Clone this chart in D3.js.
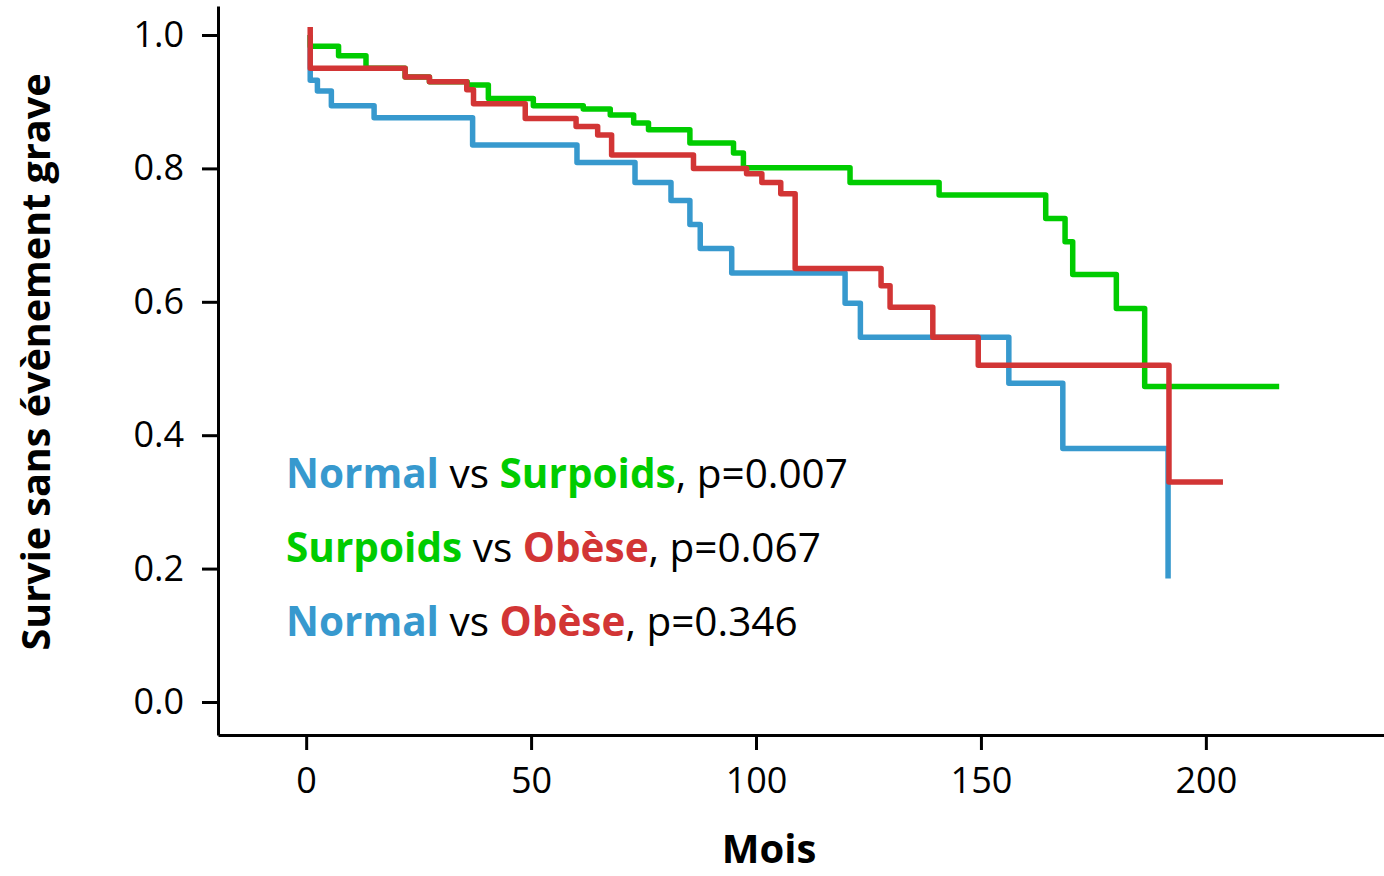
<!DOCTYPE html>
<html>
<head>
<meta charset="utf-8">
<script src="https://cdn.jsdelivr.net/npm/d3@7"></script>
<style>
  body { margin: 0; background: #fff; }
  text { font-family: "Open Sans", Lato, sans-serif; }
</style>
</head>
<body>
<svg></svg>
<script>
// Kaplan-Meier curves: [month, survival]
const normalCurve = [
  [0.9, 1.0], [0.9, 0.932], [2.5, 0.916], [5.6, 0.894], [15.1, 0.876], [37.0, 0.835],
  [60.2, 0.809], [73.1, 0.779], [81.1, 0.752], [85.3, 0.716], [87.6, 0.680], [94.6, 0.643],
  [119.8, 0.598], [123.2, 0.547], [156.2, 0.478], [168.2, 0.380], [191.6, 0.185]
]
const surpoidsCurve = [
  [0.9, 1.0], [0.9, 0.983], [7.2, 0.969], [13.3, 0.950], [22.0, 0.937], [27.4, 0.930],
  [35.8, 0.925], [40.5, 0.905], [50.5, 0.894], [61.6, 0.889], [67.6, 0.880], [72.8, 0.868],
  [76.1, 0.858], [85.3, 0.838], [95.0, 0.823], [97.2, 0.801], [120.9, 0.779], [140.7, 0.760],
  [164.4, 0.725], [168.7, 0.690], [170.4, 0.641], [180.1, 0.590], [186.4, 0.473], [216.3, 0.473]
]
const obeseCurve = [
  [0.9, 1.012], [0.9, 0.950], [22.0, 0.937], [27.4, 0.930], [35.7, 0.918], [37.2, 0.897],
  [48.7, 0.875], [60.0, 0.863], [64.8, 0.850], [67.9, 0.820], [86.1, 0.800], [97.9, 0.792],
  [101.3, 0.779], [105.5, 0.762], [108.7, 0.650], [127.8, 0.624], [129.8, 0.592], [139.3, 0.547],
  [149.4, 0.505], [191.8, 0.330], [203.8, 0.330]
]

const xTicks = [0, 50, 100, 150, 200]
const yTicks = [0, 0.2, 0.4, 0.6, 0.8, 1.0]

const groupColors = {Normal: '#3799ce', Surpoids: '#00cc00', 'Obèse': '#d23535'}

// each comparison: [group A, group B, p-value]
const comparisons = [
  ['Normal', 'Surpoids', '0.007'],
  ['Surpoids', 'Obèse', '0.067'],
  ['Normal', 'Obèse', '0.346']
]

const W = 1384, H = 876

const svg = d3.select('svg')
  .attr('width', W)
  .attr('height', H)

const x = d3.scaleLinear().domain([-19.6, 239.6]).range([218, 1384])
const y = d3.scaleLinear().domain([-0.0495, 1.0435]).range([735, 6])

// axes
const xAxis = svg.append('g')
  .attr('transform', 'translate(0,735)')
  .call(d3.axisBottom(x).tickValues(xTicks).tickSize(15).tickSizeOuter(0).tickPadding(17))
const yAxis = svg.append('g')
  .attr('transform', 'translate(218,0)')
  .call(d3.axisLeft(y).tickValues(yTicks).tickSize(16).tickSizeOuter(0).tickPadding(18)
    .tickFormat(d3.format('.1f')))

for (const ax of [xAxis, yAxis]) {
  ax.select('.domain').attr('stroke-width', 3)
  ax.selectAll('.tick line').attr('stroke-width', 3)
  ax.selectAll('.tick text')
    .attr('font-family', 'Lato, sans-serif')
    .attr('font-size', '36px')
    .attr('fill', '#000')
}

// curves, drawn blue, green then red on top
const line = d3.line()
  .x(d => x(d[0]))
  .y(d => y(d[1]))
  .curve(d3.curveStepAfter)

const curves = [
  {name: 'Normal', data: normalCurve},
  {name: 'Surpoids', data: surpoidsCurve},
  {name: 'Obèse', data: obeseCurve}
]

svg.append('g')
  .attr('fill', 'none')
  .selectAll('path')
  .data(curves)
  .join('path')
    .attr('d', d => line(d.data))
    .attr('stroke', d => groupColors[d.name])
    .attr('stroke-width', 5.5)
    .attr('stroke-linejoin', 'round')

// p-value annotations
const notes = svg.append('g')
  .attr('font-size', '40.5px')
  .selectAll('text')
  .data(comparisons)
  .join('text')
    .attr('x', 286)
    .attr('y', (d, i) => 488 + i * 74)

notes.each(function(d) {
  const t = d3.select(this)
  t.append('tspan').attr('font-weight', 700).attr('fill', groupColors[d[0]]).text(d[0])
  t.append('tspan').attr('fill', '#000').text(' vs ')
  t.append('tspan').attr('font-weight', 700).attr('fill', groupColors[d[1]]).text(d[1])
  t.append('tspan').attr('fill', '#000').text(`, p=${d[2]}`)
})

// axis titles
svg.append('text')
  .attr('x', 769)
  .attr('y', 863)
  .attr('text-anchor', 'middle')
  .attr('font-size', '40px')
  .attr('font-weight', 700)
  .text('Mois')

svg.append('text')
  .attr('transform', 'translate(50,362) rotate(-90)')
  .attr('text-anchor', 'middle')
  .attr('font-size', '39.5px')
  .attr('font-weight', 700)
  .text('Survie sans évènement grave')
</script>
</body>
</html>
